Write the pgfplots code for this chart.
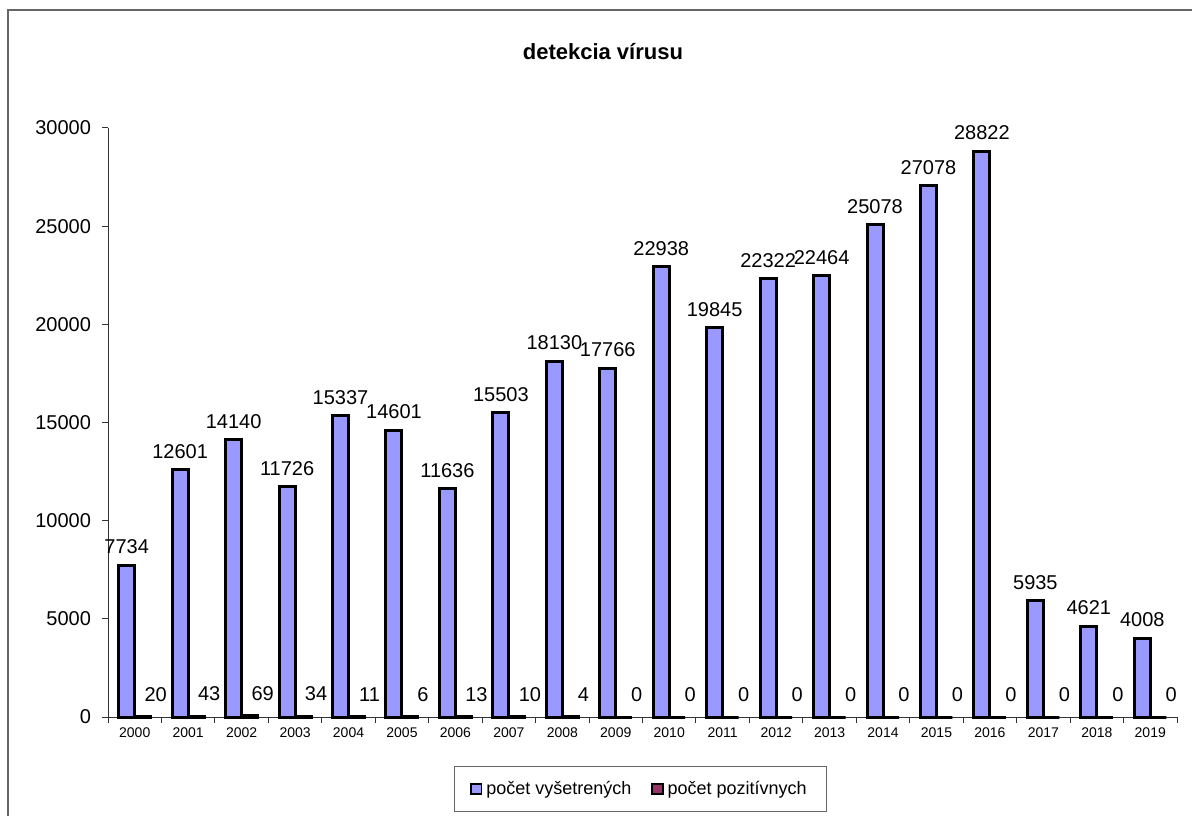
\documentclass[border=0pt]{standalone}
\usepackage{pgfplots}
\pgfplotsset{compat=1.18}
\usepackage{fontspec}
\setmainfont{Liberation Sans}
\definecolor{barblue}{HTML}{9999FF}
\definecolor{barred}{HTML}{993366}
\begin{document}
\begin{tikzpicture}
\useasboundingbox (0,0) rectangle (596bp,408bp);
\draw[gray!80!black, line width=0.6bp] (4bp,-20bp) rectangle (620bp,403bp);
\begin{axis}[
  at={(54bp,49.5bp)}, anchor=south west,
  scale only axis, width=534.5bp, height=294.5bp,
  ybar=0pt, bar width=8bp,
  xmin=-0.5, xmax=19.5, ymin=0, ymax=30000,
  axis x line*=bottom, axis y line*=left,
  axis line style={black!80, line width=0.5bp},
  xtick={0,...,19},
  xticklabels={2000,2001,2002,2003,2004,2005,2006,2007,2008,2009,2010,2011,2012,2013,2014,2015,2016,2017,2018,2019},
  major x tick style={draw=none},
  minor xtick={-0.5,0.5,...,19.5},
  minor tick length=3bp,
  minor x tick style={black!80, line width=0.5bp},
  ytick={0,5000,...,30000},
  major tick length=3bp,
  y tick style={black!80, line width=0.5bp},
  tick align=outside,
  scaled ticks=false,
  /pgf/number format/1000 sep={},
  /pgf/number format/assume math mode=true,
  yticklabel style={font=\fontsize{10bp}{12bp}\selectfont, xshift=-2bp},
  xticklabel style={font=\fontsize{7bp}{8bp}\selectfont, yshift=1bp},
  legend style={at={(0.498,0)}, anchor=center, yshift=-36bp,
    draw=gray!80!black, line width=0.6bp, legend columns=2,
    font=\fontsize{9bp}{10bp}\selectfont,
    inner xsep=8bp, inner ysep=5bp,
    /tikz/every even column/.append style={column sep=8bp}},
  legend image code/.code={\draw[#1, line width=0.9bp, draw=black] (0bp,-2.6bp) rectangle (5.2bp,2.6bp);},
  clip=false,
]
\addplot[fill=barblue, draw=black, line width=1.5bp,
  nodes near coords, every node near coord/.append style={font=\fontsize{10bp}{12bp}\selectfont, black, yshift=1.5bp, /pgf/number format/1000 sep={}}]
  coordinates {(0,7734) (1,12601) (2,14140) (3,11726) (4,15337) (5,14601) (6,11636) (7,15503) (8,18130) (9,17766) (10,22938) (11,19845) (12,22322) (13,22464) (14,25078) (15,27078) (16,28822) (17,5935) (18,4621) (19,4008)};
\addlegendentry{počet vyšetrených}
\addplot[fill=barred, draw=black, line width=1.5bp,
  nodes near coords, every node near coord/.append style={font=\fontsize{10bp}{12bp}\selectfont, black, yshift=3.5bp, xshift=6.5bp, /pgf/number format/1000 sep={}}]
  coordinates {(0,20) (1,43) (2,69) (3,34) (4,11) (5,6) (6,13) (7,10) (8,4) (9,0) (10,0) (11,0) (12,0) (13,0) (14,0) (15,0) (16,0) (17,0) (18,0) (19,0)};
\addlegendentry{počet pozitívnych}
\node[font=\bfseries\fontsize{11bp}{13bp}\selectfont] at (rel axis cs:0.463,1) [yshift=38bp] {detekcia vírusu};
\end{axis}
\end{tikzpicture}
\end{document}
